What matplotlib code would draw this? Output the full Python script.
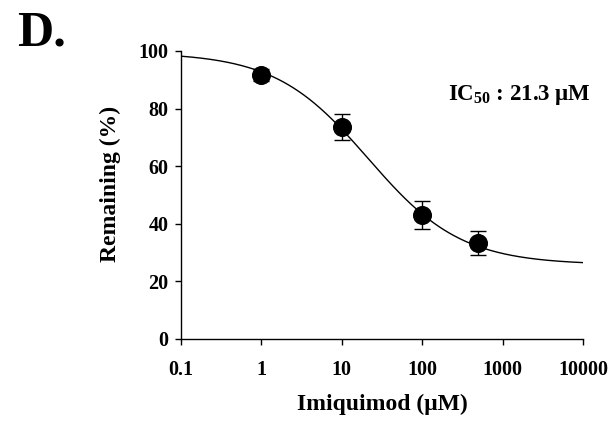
import numpy as np
import matplotlib
matplotlib.use("Agg")
import matplotlib.pyplot as plt

# Data
conc = [1, 10, 100, 500]                 # Imiquimod (µM)
remaining = [91.7, 73.7, 43.1, 33.2]     # Remaining (%)
err = [2.0, 4.5, 4.8, 4.2]
x_ticks = [0.1, 1, 10, 100, 1000, 10000]
x_tick_labels = ["0.1", "1", "10", "100", "1000", "10000"]
y_ticks = [0, 20, 40, 60, 80, 100]

# Fitted 4-parameter logistic curve parameters
fit_top = 99.5
fit_bottom = 25.8
ic50 = 21.3
hill = 0.75

plt.rcParams['font.family'] = ['Liberation Serif', 'DejaVu Serif']
plt.rcParams['font.weight'] = 'bold'
plt.rcParams['mathtext.fontset'] = 'custom'
plt.rcParams['mathtext.rm'] = 'Liberation Serif:bold'
plt.rcParams['mathtext.bf'] = 'Liberation Serif:bold'
plt.rcParams['mathtext.it'] = 'Liberation Serif:bold'

fig = plt.figure(figsize=(6.14, 4.22), dpi=100)
ax = fig.add_axes([181/614, 1-339/422, (583-181)/614, (339-51)/422])

xf = np.logspace(-1, 4, 400)
yf = fit_bottom + (fit_top - fit_bottom) / (1 + (xf / ic50) ** hill)
ax.plot(xf, yf, color='black', lw=1.0, zorder=2)

ax.errorbar(conc, remaining, yerr=err, fmt='o', color='black', ms=12.7,
            ecolor='black', elinewidth=1.0, capsize=5.5, capthick=1.0, zorder=3)

ax.set_xscale('log')
ax.set_xlim(0.1, 10000)
ax.set_ylim(0, 100)
ax.set_xticks(x_ticks)
ax.set_xticklabels(x_tick_labels)
ax.minorticks_off()
ax.set_yticks(y_ticks)
for s in ['top', 'right']:
    ax.spines[s].set_visible(False)
for s in ['left', 'bottom']:
    ax.spines[s].set_linewidth(1.0)
ax.tick_params(axis='both', direction='out', length=4, width=1.0, labelsize=14.5)
ax.tick_params(axis='x', pad=11)
ax.tick_params(axis='y', pad=5)
for lab in ax.get_xticklabels() + ax.get_yticklabels():
    lab.set_fontweight('bold')

ax.set_xlabel('Imiquimod (\u03bcM)', fontsize=17, fontweight='bold', labelpad=10)
ax.set_ylabel('Remaining (%)', fontsize=17, fontweight='bold')
ax.yaxis.set_label_coords(-0.15, 0.54)

fig.text(591/614, 1-100/422, 'IC$_{50}$ : 21.3 \u03bcM',
         ha='right', va='baseline', fontsize=16.5, fontweight='bold')
fig.text(17/614, 1-45/422, 'D.', ha='left', va='baseline', fontsize=36, fontweight='bold')

fig.savefig('out.png', dpi=100)
